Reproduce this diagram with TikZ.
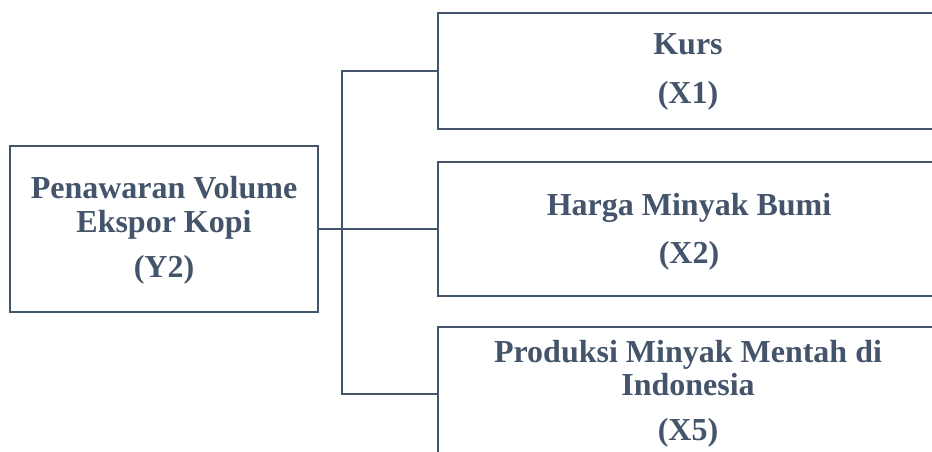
\documentclass[tikz,border=0pt]{standalone}
\usepackage{fontspec}
\setmainfont{Liberation Serif}
\definecolor{slate}{HTML}{44546A}
\begin{document}
\begin{tikzpicture}[x=1pt,y=-1pt,
  box/.style={draw=slate, line width=2pt, rectangle, inner sep=0pt},
  lbl/.style={text=slate, font=\fontsize{32}{34}\selectfont\bfseries, anchor=base, inner sep=0pt},
  wire/.style={draw=slate, line width=2pt}]
\useasboundingbox (0,0) rectangle (932,452);
\clip (0,0) rectangle (932,452);
\node[box, minimum width=308pt, minimum height=166pt] (y2) at (164,229) {};
\node[box, minimum width=500pt, minimum height=116pt] (x1) at (688,71) {};
\node[box, minimum width=500pt, minimum height=134pt] (x2) at (688,229) {};
\node[box, minimum width=500pt, minimum height=134pt] (x5) at (688,394) {};
\coordinate (j) at (342,229);
\draw[wire] (y2.east) -- (j);
\draw[wire] (x2.west) -- (j);
\draw[wire] (x1.west) -| (j);
\draw[wire] (x5.west) -| (j);
\node[lbl] (ya) at (164,198) {Penawaran Volume};
\node[lbl] (yb) at (164,232) {Ekspor Kopi};
\node[lbl] (yc) at (164,277) {(Y2)};
\node[lbl] (ka) at (688,55) {Kurs};
\node[lbl] (kb) at (688,103) {(X1)};
\node[lbl] (ha) at (689,215) {Harga Minyak Bumi};
\node[lbl] (hb) at (689,263) {(X2)};
\node[lbl] (pa) at (688,362) {Produksi Minyak Mentah di};
\node[lbl] (pb) at (688,395) {Indonesia};
\node[lbl] (pc) at (688,440) {(X5)};
\end{tikzpicture}
\end{document}
